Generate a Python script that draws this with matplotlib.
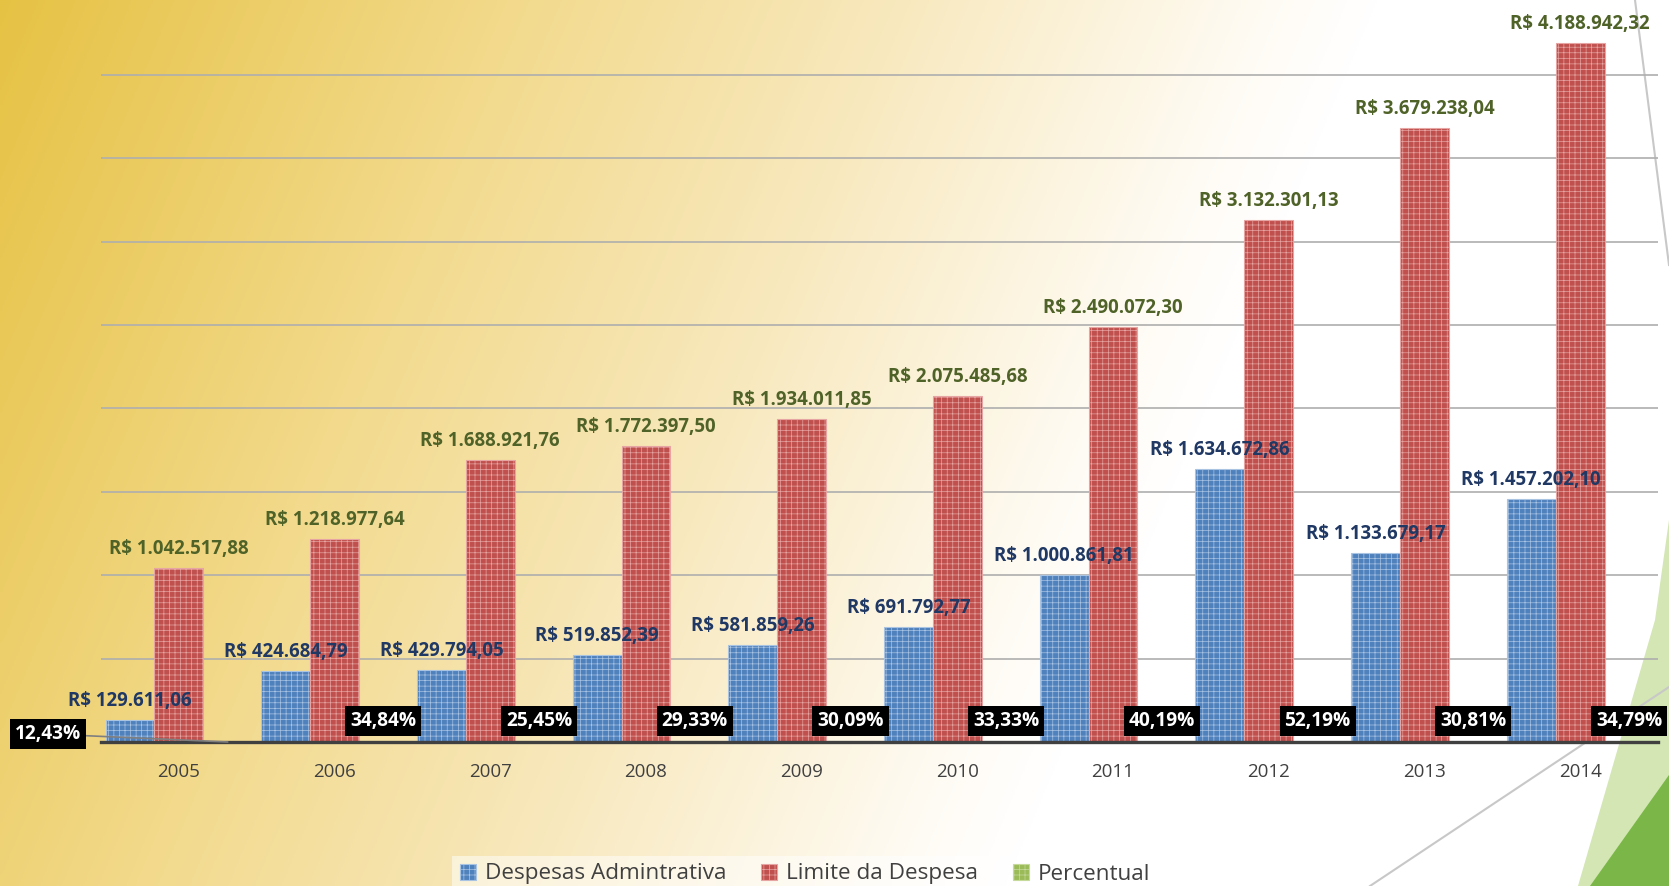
import numpy as np
import matplotlib
matplotlib.use('Agg')
import matplotlib.pyplot as plt
from matplotlib.colors import LinearSegmentedColormap
from matplotlib.patches import Polygon
from matplotlib.lines import Line2D

plt.rcParams['font.family'] = ['Open Sans', 'DejaVu Sans']
plt.rcParams['hatch.linewidth'] = 0.5

years = ['2005', '2006', '2007', '2008', '2009', '2010', '2011', '2012', '2013', '2014']
despesas = [129611.06, 424684.79, 429794.05, 519852.39, 581859.26,
            691792.77, 1000861.81, 1634672.86, 1133679.17, 1457202.10]
limite = [1042517.88, 1218977.64, 1688921.76, 1772397.50, 1934011.85,
          2075485.68, 2490072.30, 3132301.13, 3679238.04, 4188942.32]
percentual = [12.43, 34.84, 25.45, 29.33, 30.09, 33.33, 40.19, 52.19, 30.81, 34.79]
series_names = ['Despesas Admintrativa', 'Limite da Despesa', 'Percentual']


def brl(v):
    s = f'{v:,.2f}'
    s = s.replace(',', '#').replace('.', ',').replace('#', '.')
    return 'R$ ' + s


def pct(v):
    return f'{v:.2f}'.replace('.', ',') + '%'


W, H = 1669, 886
fig = plt.figure(figsize=(W / 100, H / 100), dpi=100)

# background: golden gradient fading to white, plus slide decorations
bg = fig.add_axes([0, 0, 1, 1])
bg.set_xlim(0, W)
bg.set_ylim(H, 0)
bg.axis('off')
yy, xx = np.mgrid[0:H:2, 0:W:2]
t = np.clip((xx + 0.42 * yy) / 1380.0, 0, 1)
cmap = LinearSegmentedColormap.from_list('bg', [
    (0.0, '#E6C244'), (0.36, '#F2D98A'), (0.66, '#F8E9BF'),
    (0.93, '#FFFCF6'), (1.0, '#FFFFFF')])
bg.imshow(t, cmap=cmap, extent=[0, W, H, 0], aspect='auto', interpolation='bilinear')
bg.add_patch(Polygon([(1669, 520), (1655, 620), (1578, 886), (1669, 886)],
                     closed=True, facecolor='#D3E6B3', edgecolor='none'))
bg.add_patch(Polygon([(1669, 775), (1590, 886), (1669, 886)],
                     closed=True, facecolor='#7AB648', edgecolor='none'))
bg.add_line(Line2D([1635, 1669], [0, 265], color='#C8C8C8', lw=1.5))
bg.add_line(Line2D([1370, 1669], [886, 687], color='#C8C8C8', lw=1.5))

ax = fig.add_axes([101 / W, (H - 742) / H, (1658 - 101) / W, 742 / H])
ax.patch.set_alpha(0)

x = np.arange(len(years))
w = 0.314
b1 = ax.bar(x - w, despesas, w, color='#4F81BD', edgecolor='#A9C3E3',
            hatch='+++', linewidth=0.8, label=series_names[0], zorder=2)
b2 = ax.bar(x, limite, w, color='#C0504D', edgecolor='#E6A4A2',
            hatch='+++', linewidth=0.8, label=series_names[1], zorder=2)
b3 = ax.bar(x + w, np.array(percentual) / 100, w, color='#9BBB59', edgecolor='#C6DA9C',
            hatch='+++', linewidth=0.8, label=series_names[2], zorder=2)

ax.set_yticks(np.arange(500000, 4000001, 500000))
ax.set_xlim(-0.5, len(years) - 0.5)
ax.set_ylim(0, 742 / 83.4 * 500000)
ax.yaxis.grid(True, color='#AEAEAE', linewidth=1.2, zorder=0)
ax.set_axisbelow(True)
ax.tick_params(axis='y', length=0, labelleft=False)
ax.set_xticks(x)
ax.set_xticklabels(years, fontsize=13.5, color='#404040')
ax.tick_params(axis='x', length=0, pad=15)
for side in ['left', 'right', 'top']:
    ax.spines[side].set_visible(False)
ax.spines['bottom'].set_color('#404040')
ax.spines['bottom'].set_linewidth(2.4)
ax.spines['bottom'].set_zorder(3)

for xi, v in zip(x, despesas):
    ax.annotate(brl(v), (xi - w, v), xytext=(0, 9), textcoords='offset pixels',
                ha='center', va='bottom', fontsize=13.4, fontweight='bold',
                color='#1F3864', zorder=4)
for xi, v in zip(x, limite):
    ax.annotate(brl(v), (xi, v), xytext=(0, 9), textcoords='offset pixels',
                ha='center', va='bottom', fontsize=13.4, fontweight='bold',
                color='#4F6228', zorder=4)

box = dict(boxstyle='square,pad=0.26', facecolor='black', edgecolor='none')
for i, (xi, v) in enumerate(zip(x, percentual)):
    if i == 0:
        ax.annotate(pct(v), (xi + w, 0), xytext=(-180, 8), textcoords='offset pixels',
                    ha='center', va='center', fontsize=13.8, fontweight='bold',
                    color='white', bbox=box, zorder=5,
                    arrowprops=dict(arrowstyle='-', color='#7F7F7F', lw=1.2,
                                    shrinkA=0, shrinkB=0))
    else:
        ax.annotate(pct(v), (xi + w, 0), xytext=(0, 21), textcoords='offset pixels',
                    ha='center', va='center', fontsize=13.8, fontweight='bold',
                    color='white', bbox=box, zorder=5)

leg = fig.legend(handles=[b1, b2, b3], loc='center', ncol=3,
                 bbox_to_anchor=(805 / W, 1 - 874 / H), fontsize=16.2,
                 handlelength=0.7, handleheight=0.7, handletextpad=0.4,
                 columnspacing=1.55, frameon=True, fancybox=False,
                 borderpad=0.35, borderaxespad=0)
leg.get_frame().set_facecolor('#FFFFFF')
leg.get_frame().set_alpha(0.5)
leg.get_frame().set_edgecolor('none')
for txt in leg.get_texts():
    txt.set_color('#404040')

plt.savefig('out.png', dpi=100)
plt.close('all')
